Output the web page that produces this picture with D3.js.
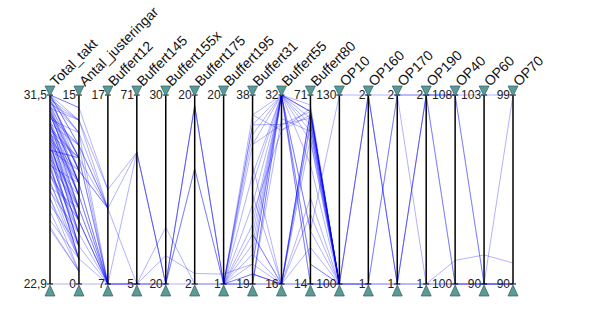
<!DOCTYPE html>
<html><head><meta charset="utf-8">
<script src="https://cdn.jsdelivr.net/npm/d3@7"></script>
<style>body{margin:0;background:#fff;}svg{display:block;font-family:"Liberation Sans",Arial,sans-serif;}</style>
</head><body><svg id="c" width="609" height="334"></svg>
<script>
const dimensions = ["Total_takt","Antal_justeringar","Buffert12","Buffert145","Buffert155x","Buffert175","Buffert195","Buffert31","Buffert55","Buffert80","OP10","OP160","OP170","OP190","OP40","OP60","OP70"];
const axisMin = [22.9,0,7,5,20,2,1,19,16,14,100,1,1,1,100,90,90];
const axisMax = [31.5,15,17,71,30,20,20,38,32,71,130,2,2,2,108,103,99];
const minLabels = ["22,9","0","7","5","20","2","1","19","16","14","100","1","1","1","100","90","90"];
const maxLabels = ["31,5","15","17","71","30","20","20","38","32","71","130","2","2","2","108","103","99"];

// null / missing = no value recorded for that row on that axis (line is broken there)
const _ = null;
const Total_takt = [22.9,31.5,30.9,31.2,29.6,30.2,28.4,29.9,
  31.4,31.0,30.7,30.5,30.1,29.8,29.4,29.1,28.8,28.6,28.1,27.8,27.5,27.1,26.8,26.5,31.3,30.6,30.0,29.3,28.9,27.9,26.2,
  31.5,31.1,30.4,29.7,29.0,28.3,27.3,25.5,
  31.5,31.5,31.5,31.5,31.3,31.3,31.1,31.0,30.8,30.8,30.6,30.6,30.4,30.2,30.2,30.0,29.8,29.8,29.6,29.4,29.3,29.1,29.0,28.9,28.7,28.5,28.3,28.2,27.9,27.6,27.2,26.8,25.8,25.4,
  31.5,31.2,30.9,30.6,30.2,29.9,29.6,29.3,29.0,28.7,28.4,30.8,30.3,29.5,29.0];
const Antal_justeringar = [0,14,13,12,8,11,6,10,
  12,10,9,11,8,7,9,6,5,7,4,5,3,4,2,3,13,11,10,8,6,5,1,
  14,13,12,10,9,8,6,1,
  11,13,9,12,10,10,9,8,9,7,8,8,7,6,6,7,5,5,6,4,4,5,10,3,3,4,2,2,3,2,2,1,2,1,
  11,10,9,8,7,6,5,4,3,3,2,8,7,5,10];
const Buffert12 = [7,12,11,7,7,11,7,7,
  11,11,11,7,7,7,11,7,7,7,7,7,_,_,7,7,12,11,7,_,_,7,_];
const Buffert145 = [5,51,51,51,5,5,5,5];
const Buffert155x = [20,20,20,20,20,23,21.5,20];
const Buffert175 = [2,19,19,19,13,2,3,13];
const Buffert195 = [1,1,1,1,1,1,2,1,
  1,1,1,1,1,1,1,1,1,1];
const Buffert31 = [19,35,36,20,30,24,21,33,
  35,34,19,21,23,25,27,20,22,19,24,26,29,31,33,19,20,22,36,21,19,24,28];
const Buffert55 = [16,32,32,16,32,16,32,29.5,
  29.5,32,32,32,32,32,32,16,16,16,16,29,32,16,32,32,16,32,29,16,30,32,16];
const Buffert80 = [14,30,66,62,20,66,57,64,
  66,64,62,60,14,30,66,66,58,14,40,67,20,63,50,66,25,68,65,35,60,14,66];
const OP10 = [100,130,100,100,100,100,100,100,
  100,100,100,100,100,100,100,100,100,100,100,100,100,100,100,100,100,100,100,100,100,100,100];
const OP160 = [1,2,2,2,1,1,2,1];
const OP170 = [1,2,1,1,2,2,1,1];
const OP190 = [1,2,2,2,1,2,1,2];
const OP40 = [100,108,108,108,100,100,101,100];
const OP60 = [90,103,90,90,90,90,92,90];
const OP70 = [90,99,99,90,90,90,91,90];

const columns = [Total_takt,Antal_justeringar,Buffert12,Buffert145,Buffert155x,Buffert175,Buffert195,Buffert31,Buffert55,Buffert80,OP10,OP160,OP170,OP190,OP40,OP60,OP70];
const rows = Total_takt.map((_v, i) => columns.map(c => (c[i] === undefined ? null : c[i])));

const svg = d3.select("#c");
const x = d3.scalePoint().domain(dimensions).range([50, 513]);
const yTop = 95, yBot = 284;
const y = dimensions.map((d, j) => d3.scaleLinear().domain([axisMin[j], axisMax[j]]).range([yBot, yTop]));

const line = d3.line().defined(p => p[1] !== null);
svg.append("g").selectAll("path").data(rows).join("path")
  .attr("d", r => line(r.map((v, j) => [x(dimensions[j]), v === null ? null : y[j](v)])))
  .attr("fill", "none").attr("stroke", "rgb(0,0,255)").attr("stroke-opacity", 0.3).attr("stroke-width", 1);

const ax = svg.append("g").selectAll("g").data(dimensions).join("g")
  .attr("transform", d => `translate(${x(d)},0)`);
ax.append("line").attr("y1", yTop).attr("y2", yBot).attr("stroke", "#000").attr("stroke-width", 1.5);
ax.append("line").attr("x1", -3).attr("x2", 3).attr("y1", yTop).attr("y2", yTop).attr("stroke", "#000");
ax.append("line").attr("x1", -3).attr("x2", 3).attr("y1", yBot).attr("y2", yBot).attr("stroke", "#000");
ax.append("text").attr("x", -3).attr("y", yTop).attr("dy", "0.36em").attr("text-anchor", "end")
  .attr("font-size", 12).attr("fill", "#222").text((d, j) => maxLabels[j]);
ax.append("text").attr("x", -3).attr("y", yBot).attr("dy", "0.36em").attr("text-anchor", "end")
  .attr("font-size", 12).attr("fill", "#222").text((d, j) => minLabels[j]);
ax.append("path").attr("d", "M-5,86L5,86L0,96Z").attr("fill", "#5a9a98").attr("stroke", "#2e5e5c").attr("stroke-width", 0.7);
ax.append("path").attr("d", "M-5,296L5,296L0,285Z").attr("fill", "#5a9a98").attr("stroke", "#2e5e5c").attr("stroke-width", 0.7);
ax.append("text").attr("transform", "translate(6,87) rotate(-45)").attr("font-size", 14).attr("fill", "#111").text(d => d);
</script></body></html>
